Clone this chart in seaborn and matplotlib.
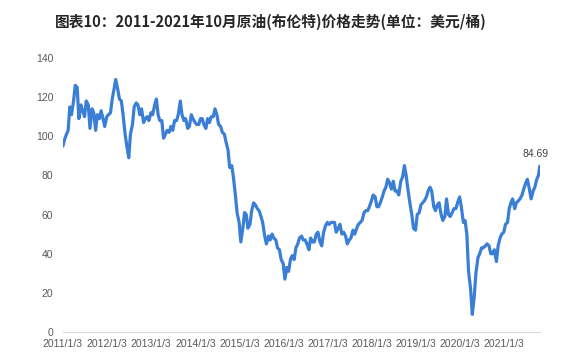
import numpy as np
import pandas as pd
import matplotlib
matplotlib.use("Agg")
import matplotlib.pyplot as plt
import seaborn as sns

brent_2011 = [95, 98, 101, 103, 115, 111, 118, 126, 125, 109, 116, 113,
              110, 118, 116, 104, 114, 112, 103, 111, 109, 113, 109, 105]
brent_2012 = [110, 111, 112, 119, 124, 129, 124, 119, 118, 111, 101, 95,
              89, 101, 106, 115, 117, 116, 111, 114, 107, 109, 110, 108]
brent_2013 = [112, 111, 116, 119, 111, 108, 108, 99, 101, 103, 102, 105,
              103, 108, 108, 111, 118, 111, 108, 109, 104, 105, 111, 109]
brent_2014 = [107, 106, 106, 109, 109, 106, 104, 109, 107, 110, 110, 114,
              111, 106, 105, 102, 101, 97, 93, 84, 85, 79, 70, 61]
brent_2015 = [56, 46, 53, 61, 60, 53, 55, 62, 66, 65, 63, 62,
              59, 56, 49, 45, 49, 47, 50, 48, 47, 43, 42, 37]
brent_2016 = [35, 27, 33, 31, 37, 39, 37, 43, 45, 48, 49, 47,
              47, 45, 42, 48, 46, 46, 50, 51, 46, 44, 51, 54]
brent_2017 = [56, 55, 56, 56, 56, 51, 53, 55, 50, 51, 49, 45,
              47, 48, 52, 50, 53, 55, 56, 57, 61, 62, 62, 64]
brent_2018 = [67, 70, 69, 64, 64, 66, 69, 72, 74, 78, 76, 73,
              77, 72, 72, 70, 77, 79, 85, 80, 72, 66, 60, 53]
brent_2019 = [52, 60, 61, 65, 66, 67, 69, 72, 74, 72, 64, 62,
              65, 66, 60, 57, 59, 68, 60, 59, 61, 63, 63, 66]
brent_2020 = [69, 64, 56, 57, 50, 31, 22, 9, 18, 30, 38, 40,
              43, 43, 44, 45, 44, 40, 40, 42, 36, 44, 48, 50]
brent_2021 = [51, 55, 56, 63, 66, 68, 63, 66, 67, 68, 70, 73,
              76, 78, 73, 68, 72, 74, 78, 80]
last_date = "2021-10-26"
last_value = 84.69

year_ticks = ["2011/1/3", "2012/1/3", "2013/1/3", "2014/1/3", "2015/1/3", "2016/1/3",
              "2017/1/3", "2018/1/3", "2019/1/3", "2020/1/3", "2021/1/3"]
y_ticks = [0, 20, 40, 60, 80, 100, 120, 140]

values = (brent_2011 + brent_2012 + brent_2013 + brent_2014 + brent_2015 + brent_2016
          + brent_2017 + brent_2018 + brent_2019 + brent_2020 + brent_2021)
dates = list(pd.date_range("2011-01-01", periods=len(values), freq="SMS"))
dates[0] = pd.Timestamp("2011-01-03")
dates.append(pd.Timestamp(last_date))
values.append(last_value)
df = pd.DataFrame({"date": dates, "price": values})

sns.set_style("white")
plt.rcParams["font.family"] = ["Liberation Sans Narrow", "Liberation Sans", "DejaVu Sans"]

fig = plt.figure(figsize=(5.67, 3.63), dpi=100)
ax = fig.add_axes([0.111, 0.0854, 0.841, 0.755])

sns.lineplot(data=df, x="date", y="price", ax=ax, color="#3a7fd5", linewidth=2.3)

tick_dates = [pd.Timestamp(t.replace("/", "-")) for t in year_ticks]
ax.set_xlim(dates[0], dates[-1])
ax.set_ylim(0, 140)
ax.set_xticks(tick_dates)
ax.set_xticklabels(year_ticks)
ax.set_yticks(y_ticks)
ax.set_xlabel("")
ax.set_ylabel("")
ax.tick_params(axis="x", labelsize=7.5, colors="#595959", length=2, width=0.6, pad=3)
ax.tick_params(axis="y", labelsize=7.5, colors="#595959", length=0, pad=7)
ax.tick_params(axis="x", color="#d0d0d0")

for side in ["top", "right", "left"]:
    ax.spines[side].set_visible(False)
ax.spines["bottom"].set_color("#d9d9d9")
ax.spines["bottom"].set_linewidth(0.8)

ax.annotate(f"{last_value:.2f}", xy=(df["date"].iloc[-1], last_value),
            xytext=(-3, 5), textcoords="offset points", ha="center", va="bottom",
            fontsize=7.5, color="#404040")

fig.text(0.478, 0.94, "图表10：2011-2021年10月原油(布伦特)价格走势(单位：美元/桶)",
         ha="center", va="center", fontsize=10.6, fontweight="bold", color="#262626",
         family=["Noto Sans CJK SC", "DejaVu Sans"])

fig.savefig("out.png", dpi=100)
